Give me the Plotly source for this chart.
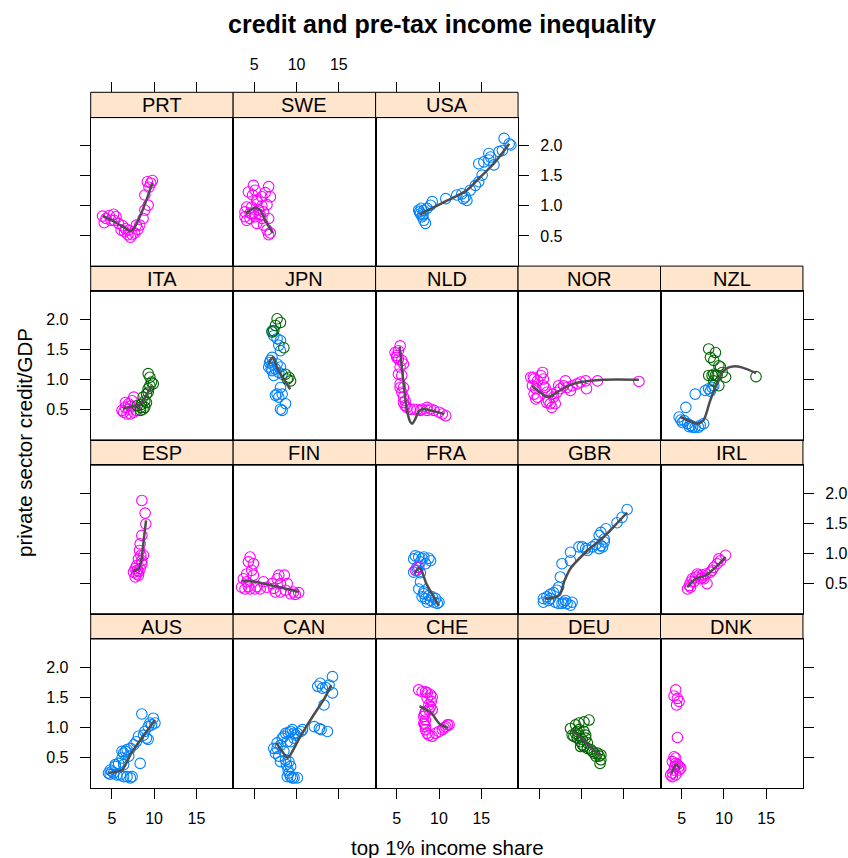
import plotly.graph_objects as go

# ---------------- data ----------------
# groups: g1 = blue, g2 = magenta, g3 = green
PRT_g2 = [(3.9,0.83),(4.3,0.79),(4.7,0.84),(5.2,0.86),(5.5,0.82),(4.1,0.72),(4.9,0.76),(5.3,0.76),(5.8,0.71),
          (6.1,0.60),(6.5,0.57),(6.9,0.52),(7.2,0.48),(7.4,0.52),(7.7,0.55),(8.1,0.61),(8.3,0.68),(8.7,0.79),
          (8.9,0.93),(9.3,1.01),(8.9,1.18),(9.4,1.31),(9.6,1.38),(9.8,1.42),(9.2,1.40),(7.0,0.60),(6.6,0.62),
          (7.9,0.68),(6.3,0.67)]
PRT_fit = [(3.9,0.84),(5.5,0.72),(6.7,0.62),(7.2,0.58),(7.6,0.62),(8.4,0.85),(9.1,1.10),(9.8,1.38)]

SWE_g2 = [(4.9,1.34),(4.3,1.23),(5.1,1.26),(6.7,1.32),(5.9,1.15),(6.9,1.15),(5.3,1.07),(4.1,0.98),(4.7,0.98),
          (5.9,1.00),(6.5,1.02),(3.9,0.90),(4.5,0.88),(5.5,0.93),(6.1,0.90),(3.9,0.82),(4.5,0.79),(5.1,0.82),
          (5.9,0.79),(6.7,0.79),(4.1,0.76),(5.3,0.71),(6.1,0.68),(6.5,0.60),(6.7,0.52),(6.9,0.55),(5.7,0.85),
          (4.7,0.87),(5.3,1.10),(6.3,1.22),(4.8,1.18)]
SWE_fit = [(4.0,0.87),(5.1,0.97),(5.7,0.93),(6.3,0.76),(7.2,0.55)]

USA_g1 = [(7.6,0.93),(7.8,0.87),(8.0,0.82),(8.2,0.76),(8.4,0.71),(8.2,0.92),(7.9,0.96),(8.6,0.96),(9.0,1.01),
          (9.2,1.07),(10.8,1.12),(12.1,1.18),(12.7,1.20),(13.1,1.15),(13.3,1.09),(12.9,1.12),(13.7,1.26),
          (14.3,1.34),(14.7,1.40),(15.1,1.51),(14.7,1.70),(15.3,1.73),(15.9,1.76),(16.5,1.68),(16.1,1.81),
          (17.1,1.90),(17.5,1.92),(17.7,2.12),(18.3,2.03),(18.5,2.01),(15.9,1.87),(8.1,0.85),(7.7,0.90)]
USA_fit = [(7.7,0.86),(9.3,0.97),(11.0,1.09),(13.3,1.26),(14.9,1.48),(16.6,1.72),(18.3,2.03)]

ITA_g2 = [(6.2,0.49),(6.6,0.54),(7.0,0.60),(7.4,0.65),(7.6,0.71),(6.4,0.46),(6.8,0.43),(7.2,0.43),(7.6,0.46),
          (7.9,0.49),(7.0,0.51),(6.6,0.62),(7.2,0.56)]
ITA_g3 = [(8.0,0.57),(8.4,0.54),(8.7,0.51),(8.5,0.59),(8.9,0.65),(9.1,0.76),(9.3,0.85),(9.5,0.90),(9.7,0.96),
          (9.9,0.93),(9.5,1.04),(9.3,1.10),(9.1,0.62),(8.9,0.54),(8.4,0.49),(8.7,0.71),(9.3,0.79)]
ITA_fit = [(6.3,0.52),(7.5,0.56),(8.3,0.59),(9.0,0.72),(9.7,0.90)]

JPN_g1 = [(7.1,1.81),(7.3,1.73),(7.7,1.68),(8.1,1.65),(7.9,1.57),(8.1,1.48),(7.1,1.37),(6.9,1.32),(6.7,1.21),
          (7.1,1.15),(7.5,1.18),(7.9,1.12),(8.3,1.09),(7.1,1.26),(7.7,1.26),(8.1,1.21),(7.3,1.07),(8.1,0.87),
          (7.7,0.76),(8.3,0.76),(7.9,0.71),(8.7,0.60),(8.1,0.51),(8.3,0.49),(7.5,0.74),(6.8,1.28),(7.0,1.18)]
JPN_g3 = [(7.7,2.01),(8.1,1.95),(7.5,1.90),(7.3,1.81),(7.1,1.79),(8.5,1.53),(8.7,1.09),(9.1,1.04),(9.3,0.98),
          (8.9,1.01)]
JPN_fit = [(6.7,1.25),(7.2,1.37),(7.7,1.20),(8.3,1.05),(9.25,0.84)]

NLD_g2 = [(5.4,1.56),(5.2,1.48),(5.0,1.40),(5.2,1.34),(5.6,1.32),(5.8,1.26),(5.4,1.21),(5.2,1.09),(5.6,1.07),
          (5.4,0.93),(5.8,0.87),(5.6,0.79),(5.8,0.71),(6.0,0.65),(6.0,0.57),(6.2,0.54),(6.6,0.51),(7.0,0.51),
          (7.4,0.50),(8.0,0.51),(8.6,0.54),(9.0,0.51),(9.4,0.49),(10.0,0.46),(10.4,0.43),(10.8,0.40),(8.6,0.49),
          (7.8,0.49),(5.8,0.62),(5.4,0.87),(5.0,1.37),(4.8,1.45)]
NLD_fit = [(5.35,1.55),(5.8,0.95),(6.2,0.50),(6.6,0.30),(6.85,0.27),(7.2,0.35),(7.6,0.47),(8.0,0.51),
           (9.0,0.49),(10.6,0.43)]

NOR_g2 = [(4.0,1.04),(4.4,1.01),(4.2,0.90),(4.6,0.85),(4.4,0.76),(4.8,0.71),(4.6,0.68),(5.2,1.07),(5.4,1.12),
          (5.5,1.01),(5.7,0.87),(5.9,0.79),(6.1,0.65),(6.3,0.60),(6.5,0.54),(6.9,0.60),(6.7,0.71),(7.1,0.79),
          (7.5,0.85),(7.9,0.90),(8.1,0.98),(8.3,0.87),(8.7,0.82),(8.9,0.90),(9.5,0.93),(9.9,0.96),(10.5,0.98),
          (10.6,0.85),(11.9,0.98),(16.8,0.97),(4.3,1.04),(4.8,0.98),(5.5,0.90),(5.9,0.62),(6.5,0.76),(7.3,0.90)]
NOR_fit = [(4.15,0.90),(5.2,0.78),(6.1,0.71),(7.1,0.79),(8.5,0.90),(9.9,0.96),(12.6,1.00),(16.8,1.00)]

NZL_g1 = [(4.7,0.38),(5.3,0.32),(5.7,0.27),(6.1,0.24),(6.6,0.21),(7.2,0.24),(7.6,0.27),(5.5,0.54),(6.6,0.76),
          (7.8,0.82),(8.2,0.85),(8.6,0.87),(8.8,0.90),(8.4,0.81),(5.1,0.29),(6.3,0.21),(7.0,0.21),(4.9,0.33),
          (5.9,0.22)]
NZL_g3 = [(8.2,1.51),(9.0,1.45),(8.4,1.37),(8.8,1.32),(9.4,1.23),(8.6,1.07),(8.2,1.07),(9.2,1.07),(9.8,1.12),
          (10.2,1.04),(8.8,0.98),(9.4,0.90),(13.8,1.05),(8.8,1.09),(9.0,1.07),(9.6,1.21)]
NZL_fit = [(4.85,0.38),(6.0,0.31),(6.85,0.27),(7.6,0.33),(8.3,0.62),(8.9,0.85),(9.8,1.12),(10.5,1.20),
           (11.1,1.22),(12.2,1.20),(13.8,1.11)]

ESP_g2 = [(8.55,1.88),(8.94,1.67),(9.02,1.49),(8.55,1.30),(8.35,1.16),(8.27,1.05),(8.43,0.97),(8.55,0.88),
          (7.95,0.80),(7.76,0.75),(7.56,0.69),(7.95,0.66),(8.15,0.64),(7.76,0.61),(8.35,0.75),(8.55,0.83),
          (8.15,0.91),(8.75,0.97),(8.0,0.72),(8.2,0.70)]
ESP_fit = [(7.5,0.70),(8.2,0.76),(8.5,0.90),(8.75,1.20),(9.05,1.55)]

FIN_g2 = [(4.5,0.94),(4.3,0.86),(4.9,0.83),(4.7,0.72),(4.9,0.64),(3.7,0.58),(4.1,0.53),(3.5,0.44),(3.9,0.41),
          (4.5,0.41),(5.1,0.41),(5.7,0.41),(6.1,0.53),(6.5,0.44),(7.1,0.50),(7.7,0.58),(7.9,0.64),(8.55,0.64),
          (8.9,0.50),(8.1,0.50),(7.5,0.36),(8.1,0.36),(8.7,0.39),(9.3,0.33),(9.85,0.32),(10.25,0.35),(9.65,0.36),
          (4.1,0.66),(4.3,0.45),(5.3,0.45),(7.3,0.42)]
FIN_fit = [(3.53,0.55),(5.3,0.525),(6.7,0.48),(8.07,0.44),(10.25,0.36)]

FRA_g1 = [(7.0,0.91),(7.6,0.94),(8.2,0.94),(8.8,0.92),(9.0,0.88),(7.8,0.86),(8.4,0.83),(7.4,0.77),(7.0,0.69),
          (7.4,0.72),(7.8,0.68),(7.8,0.53),(7.6,0.41),(8.2,0.33),(8.0,0.28),(8.4,0.25),(8.8,0.30),(9.0,0.22),
          (9.4,0.19),(9.8,0.17),(10.0,0.19),(9.6,0.25),(8.6,0.19),(9.2,0.28),(8.2,0.36),(7.2,0.96),(8.0,0.92)]
FRA_g2 = [(7.6,0.77),(7.2,0.72)]
FRA_fit = [(7.1,0.66),(7.6,0.76),(7.85,0.74),(8.5,0.50),(9.2,0.32),(10.0,0.13)]

GBR_g1 = [(5.5,0.25),(5.9,0.28),(6.3,0.32),(6.7,0.35),(7.1,0.39),(7.3,0.44),(5.5,0.19),(6.1,0.22),(6.9,0.19),
          (7.3,0.17),(7.7,0.17),(8.3,0.17),(8.7,0.14),(8.9,0.19),(8.1,0.22),(7.5,0.61),(7.7,0.83),(8.7,0.88),
          (8.7,1.02),(9.7,1.11),(10.1,1.11),(10.5,1.08),(10.7,1.05),(11.3,1.11),(12.1,1.08),(12.5,1.11),
          (12.7,1.19),(12.1,1.30),(12.3,1.35),(12.7,1.24),(12.9,1.41),(14.2,1.51),(14.8,1.60),(15.4,1.73),
          (6.3,0.25),(7.9,0.19),(12.3,1.13),(11.7,1.15)]
GBR_fit = [(5.7,0.25),(6.7,0.27),(7.4,0.31),(8.0,0.55),(8.7,0.75),(10.5,1.02),(12.6,1.27),(14.0,1.47),(15.4,1.68)]

IRL_g2 = [(5.7,0.41),(5.9,0.47),(6.1,0.53),(6.25,0.58),(6.65,0.61),(7.05,0.64),(7.45,0.64),(7.85,0.66),
          (8.0,0.50),(8.4,0.69),(8.8,0.77),(9.2,0.83),(9.6,0.88),(10.2,0.97),(9.4,0.91),(6.45,0.53),(7.25,0.58),
          (6.85,0.66),(7.65,0.58),(6.05,0.44),(8.6,0.72),(7.45,0.60)]
IRL_fit = [(5.66,0.44),(6.65,0.58),(7.84,0.635),(9.0,0.77),(10.21,0.94)]

AUS_g1 = [(4.6,0.24),(5.0,0.27),(5.4,0.35),(5.2,0.24),(5.6,0.21),(6.0,0.21),(6.4,0.18),(6.8,0.18),(7.2,0.16),
          (7.4,0.18),(4.8,0.29),(5.4,0.38),(5.8,0.40),(6.2,0.49),(6.4,0.57),(6.6,0.60),(6.8,0.63),(7.2,0.65),
          (7.6,0.71),(7.9,0.76),(8.15,0.85),(8.35,0.40),(8.55,1.22),(8.75,0.87),(8.9,0.93),(9.1,0.82),(9.3,1.01),
          (9.5,1.07),(9.7,1.04),(9.9,1.15),(10.1,1.07),(6.4,0.38),(7.0,0.52),(4.8,0.22),(6.2,0.60),(9.3,0.80)]
AUS_fit = [(4.6,0.24),(5.5,0.26),(6.2,0.29),(6.7,0.40),(7.3,0.57),(8.6,0.83),(10.1,1.12)]

CAN_g1 = [(7.3,0.65),(7.7,0.74),(7.5,0.57),(7.9,0.52),(8.1,0.43),(8.3,0.82),(8.5,0.85),(8.7,0.90),(8.9,0.76),
          (8.5,0.60),(8.7,0.46),(8.8,0.38),(9.0,0.29),(9.1,0.24),(9.3,0.18),(9.5,0.16),(9.7,0.16),(10.1,0.16),
          (8.9,0.18),(9.3,0.93),(9.5,0.96),(9.7,0.90),(9.9,0.87),(10.1,0.90),(10.5,0.93),(10.7,0.96),(9.7,0.82),
          (9.3,0.76),(12.1,1.01),(12.7,0.98),(12.9,0.96),(13.65,0.93),(12.5,1.68),(12.8,1.73),(13.05,1.65),
          (13.45,1.66),(13.25,1.37),(13.85,1.70),(14.25,1.84),(14.25,1.57),(9.3,0.35),(9.1,0.43),(7.7,0.65),
          (8.1,0.70),(9.0,0.91)]
CAN_fit = [(7.6,0.74),(8.4,0.58),(8.95,0.49),(9.3,0.55),(10.5,0.86),(12.0,1.20),(13.3,1.48),(14.1,1.70)]

CHE_g2 = [(7.6,1.62),(8.0,1.59),(8.4,1.59),(8.6,1.57),(9.0,1.54),(9.2,1.50),(9.1,1.43),(9.0,1.34),(8.8,1.29),
          (8.4,1.26),(8.2,1.18),(8.4,1.12),(8.2,1.07),(8.4,1.01),(8.4,0.96),(8.6,0.90),(8.8,0.87),(9.2,0.85),
          (9.6,0.90),(10.0,0.93),(10.4,0.96),(10.8,1.01),(11.0,1.04),(11.2,1.04),(10.6,0.99),(9.2,1.29),
          (8.8,1.37),(8.6,1.48),(8.3,1.22),(8.3,1.05)]
CHE_fit = [(7.7,1.35),(8.5,1.29),(9.1,1.24),(9.7,1.12),(10.2,1.04),(11.1,0.99)]

DEU_g3 = [(8.7,0.98),(9.3,1.04),(9.7,1.07),(10.3,1.09),(10.9,1.12),(8.9,0.87),(9.3,0.90),(9.7,0.87),(10.3,0.93),
          (10.5,0.87),(9.1,0.85),(9.5,0.82),(9.9,0.76),(10.1,0.71),(9.9,0.68),(10.3,0.68),(10.7,0.65),(11.1,0.63),
          (11.3,0.60),(11.5,0.57),(11.9,0.57),(12.3,0.54),(12.1,0.52),(12.3,0.46),(12.2,0.40),(11.7,0.52),
          (10.7,0.74),(9.7,0.96),(10.5,0.82),(9.5,0.93),(10.1,0.80)]
DEU_fit = [(8.8,0.96),(10.0,0.81),(11.0,0.68),(12.25,0.52)]

DNK_g2 = [(4.3,1.62),(4.1,1.52),(4.5,1.48),(4.7,1.43),(4.4,1.37),(4.5,0.83),(4.1,0.51),(4.3,0.49),(3.9,0.43),
          (4.3,0.40),(4.5,0.38),(4.7,0.35),(4.9,0.32),(4.1,0.29),(3.9,0.24),(3.7,0.21),(3.9,0.18),(4.3,0.21),
          (4.7,0.29),(4.2,0.35)]
DNK_fit = [(3.8,0.23),(4.1,0.33),(4.35,0.38),(4.8,0.31)]

# panel layout, rows top to bottom
LAYOUT_ROWS = [["PRT", "SWE", "USA"],
               ["ITA", "JPN", "NLD", "NOR", "NZL"],
               ["ESP", "FIN", "FRA", "GBR", "IRL"],
               ["AUS", "CAN", "CHE", "DEU", "DNK"]]

X_TICKS = [5, 10, 15]
Y_TICKS = [0.5, 1.0, 1.5, 2.0]
Y_TICK_TEXT = ["0.5", "1.0", "1.5", "2.0"]
X_RANGE = [2.5, 19.35]
Y_RANGE = [0.0, 2.465]

GROUP_COLORS = {"g1": "#0080ff", "g2": "#ff00ff", "g3": "#006400"}
FIT_COLOR = "#4d4d4d"
STRIP_BG = "#ffe5cc"

# ---------------- figure ----------------
W, H = 848, 858
L0, CW = 90.7, 142.45
T0, RH, SH = 92.3, 173.8, 25.3
FONT = "Liberation Sans, Arial, Helvetica, sans-serif"
TICKFONT = dict(family=FONT, size=16, color="black")

g = globals()
fig = go.Figure()
shapes, annotations = [], []
layout = {}

n_panels = sum(len(r) for r in LAYOUT_ROWS)
extra = n_panels
idx = 0
for r, row in enumerate(LAYOUT_ROWS):
    ncols = len(row)
    for c, code in enumerate(row):
        idx += 1
        xa = "x" if idx == 1 else f"x{idx}"
        ya = "y" if idx == 1 else f"y{idx}"
        xk = "xaxis" if idx == 1 else f"xaxis{idx}"
        yk = "yaxis" if idx == 1 else f"yaxis{idx}"

        px0, px1 = L0 + c * CW, L0 + (c + 1) * CW
        stop = T0 + r * RH
        ptop, pbot = stop + SH, T0 + (r + 1) * RH

        # points
        for gname in ("g1", "g2", "g3"):
            key = f"{code}_{gname}"
            if key in g:
                pts = g[key]
                fig.add_trace(go.Scatter(
                    x=[p[0] for p in pts], y=[p[1] for p in pts], mode="markers",
                    marker=dict(symbol="circle-open", size=10.5, color=GROUP_COLORS[gname],
                                line=dict(width=1.1, color=GROUP_COLORS[gname])),
                    xaxis=xa, yaxis=ya, showlegend=False, cliponaxis=False))
        fit = g[f"{code}_fit"]
        fig.add_trace(go.Scatter(
            x=[p[0] for p in fit], y=[p[1] for p in fit], mode="lines",
            line=dict(color=FIT_COLOR, width=2.5, shape="spline", smoothing=0.8),
            xaxis=xa, yaxis=ya, showlegend=False))

        xax = dict(domain=[px0 / W, px1 / W], anchor=ya, range=X_RANGE, tickvals=X_TICKS,
                   showline=True, mirror=True, linecolor="black", linewidth=1,
                   showgrid=False, zeroline=False, ticks="", showticklabels=False,
                   tickfont=TICKFONT, ticklen=10, tickwidth=1, tickcolor="black")
        if r == len(LAYOUT_ROWS) - 1:
            xax.update(side="bottom", ticks="outside", showticklabels=(c % 2 == 0), ticklabelstandoff=6)

        yax = dict(domain=[1 - pbot / H, 1 - ptop / H], anchor=xa, range=Y_RANGE, tickvals=Y_TICKS,
                   ticktext=Y_TICK_TEXT, showline=True, mirror=True, linecolor="black", linewidth=1,
                   showgrid=False, zeroline=False, ticks="", showticklabels=False,
                   tickfont=TICKFONT, ticklen=10, tickwidth=1, tickcolor="black")
        if c == 0:
            yax.update(side="left", ticks="outside", showticklabels=(r % 2 == 1), ticklabelstandoff=8)
        elif c == ncols - 1:
            yax.update(side="right", ticks="outside", showticklabels=(r % 2 == 0), ticklabelstandoff=8)

        layout[xk] = xax
        layout[yk] = yax

        # top axis drawn above the strip (first row of the layout)
        if r == 0:
            extra += 1
            tx = f"x{extra}"
            layout[f"xaxis{extra}"] = dict(
                overlaying=xa, anchor="free", position=1 - stop / H, side="top",
                range=X_RANGE, tickvals=X_TICKS, ticks="outside", showticklabels=(c == 1),
                ticklabelstandoff=6, showline=False, showgrid=False, zeroline=False,
                tickfont=TICKFONT, ticklen=10, tickwidth=1, tickcolor="black")
            fig.add_trace(go.Scatter(x=[X_RANGE[0]], y=[Y_RANGE[0]], mode="markers",
                                     marker=dict(opacity=0), hoverinfo="skip",
                                     xaxis=tx, yaxis=ya, showlegend=False))

        # strip
        shapes.append(dict(type="rect", xref="paper", yref="paper",
                           x0=px0 / W, x1=px1 / W, y0=1 - ptop / H, y1=1 - stop / H,
                           fillcolor=STRIP_BG, line=dict(color="black", width=1), layer="below"))
        annotations.append(dict(text=code, xref="paper", yref="paper",
                                x=(px0 + px1) / 2 / W, y=1 - (stop + SH / 2 + 0.5) / H,
                                xanchor="center", yanchor="middle", showarrow=False,
                                font=dict(family=FONT, size=20, color="black")))

annotations.append(dict(text="<b>credit and pre-tax income inequality</b>", xref="paper", yref="paper",
                        x=442 / W, y=1 - 24 / H, xanchor="center", yanchor="middle", showarrow=False,
                        font=dict(family=FONT, size=25, color="black")))
annotations.append(dict(text="top 1% income share", xref="paper", yref="paper",
                        x=447 / W, y=1 - 847 / H, xanchor="center", yanchor="middle", showarrow=False,
                        font=dict(family=FONT, size=20.5, color="black")))
annotations.append(dict(text="private sector credit/GDP", xref="paper", yref="paper",
                        x=24 / W, y=1 - 443 / H, xanchor="center", yanchor="middle", showarrow=False,
                        textangle=-90, font=dict(family=FONT, size=20.5, color="black")))

fig.update_layout(width=W, height=H, margin=dict(l=0, r=0, t=0, b=0),
                  paper_bgcolor="white", plot_bgcolor="white",
                  shapes=shapes, annotations=annotations, **layout)

fig.write_html("out.html")
